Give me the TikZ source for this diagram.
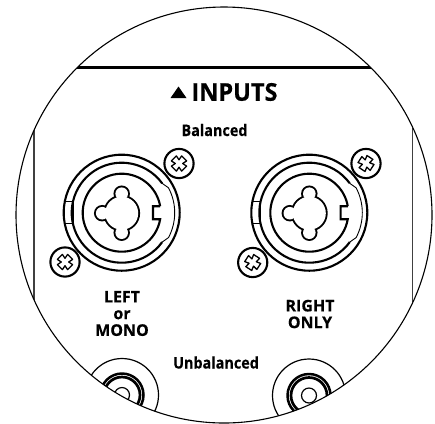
\documentclass[tikz,border=0pt]{standalone}
\usepackage{fontspec}
\usepackage{graphicx}
\setmainfont[BoldFeatures={FakeBold=0.4}]{Open Sans}
\newcommand{\screwat}[3]{%
  \begin{scope}[shift={(#1,#2)}]
    \fill[white] (0,0) circle (15.5);
    \draw[thickline] (0,0) circle (14.6);
    \draw[crossline,rotate=#3]
      (0,-3.7) -- (2.6,-7.6) -- (7.6,-2.6) -- (3.7,0) -- (7.6,2.6) -- (2.6,7.6) -- (0,3.7)
      -- (-2.6,7.6) -- (-7.6,2.6) -- (-3.7,0) -- (-7.6,-2.6) -- (-2.6,-7.6) -- cycle;
  \end{scope}}
\newcommand{\combojack}[2]{%
  \begin{scope}[shift={(#1,#2)}]
    \draw[thickline] (0,0) circle (58);
    % second ring with the thin right side
    \draw[thickline] (36:50) arc[start angle=36,end angle=324,radius=50];
    \draw[thinline] (36:50) -- (28:53) arc[start angle=28,end angle=-28,radius=53] -- (-36:50);
    % left tab
    \draw[thinline] (-56,-11) -- (-48.5,-11) -- (-48.5,11) -- (-56,11);
    % inner ring with key notch
    \draw[thickline] (-9.6:39) -- ++(-7.2,0) -- ++(0,13) -- (9.6:39)
      arc[start angle=9.6,end angle=350.4,radius=39];
    % contact outline
    \foreach \p/\r in {{0,0.5}/16.5,{0,-19}/6.3,{0,20}/6.3,{-19.5,0.5}/6.3}{\draw[line width=3.8bp] (\p) circle (\r);}
    \foreach \p/\r in {{0,0.5}/16.5,{0,-19}/6.3,{0,20}/6.3,{-19.5,0.5}/6.3}{\fill[white] (\p) circle (\r);}
    \fill[white] (-4,-19) rectangle (4,0) (-4,20) rectangle (4,0) (-19.5,-3.5) rectangle (0,4.5);
  \end{scope}}
\newcommand{\lowerjack}[2]{%
  \begin{scope}[shift={(#1,#2)}]
    \draw[line width=1.2bp] (0,0) circle (36.5);
    \draw[line width=2.5bp] (0,0) circle (21.5);
    \draw[line width=2.7bp] (0,0) circle (18);
    \draw[line width=1.2bp] (0,0) circle (7.5);
  \end{scope}}
\tikzset{
  thickline/.style={line width=2.1bp},
  thinline/.style={line width=0.9bp},
  crossline/.style={line width=1.3bp,line join=round},
  lensline/.style={line width=1.1bp},
  labelbig/.style={font=\fontsize{24.5bp}{26bp}\selectfont\bfseries,inner sep=0pt,anchor=center},
  labelcaps/.style={font=\fontsize{16bp}{16.7bp}\selectfont\bfseries,inner sep=0pt,align=center,anchor=center},
  labelsmall/.style={font=\fontsize{16bp}{18bp}\selectfont\bfseries,inner sep=0pt,anchor=center},
}
\begin{document}
\begin{tikzpicture}[x=1bp,y=-1bp]
\useasboundingbox (0,0) rectangle (435,423);
\fill[white] (0,0) rectangle (435,423);
\begin{scope}
  \clip (224,215) circle (208);
  \draw[line width=3bp] (60,67.5) -- (390,67.5);
  \draw[line width=1.4bp,black!75] (34,100) -- (34,330);
  \draw[line width=1.4bp,black!75] (412.5,100) -- (412.5,330);
  \lowerjack{122}{395}
  \lowerjack{309}{395.5}
\end{scope}
\draw[lensline] (224,215) circle (208);
\combojack{121.7}{212.7}
\combojack{309.3}{212.7}
\screwat{179}{163.5}{0}
\screwat{65}{262}{0}
\screwat{366}{163.5}{12}
\screwat{252.7}{262.5}{12}
\fill (170.5,98) -- (178.5,86.5) -- (186.5,98) -- cycle;
\node[labelbig] (inputs) at (234.5,92) {\scalebox{0.96}[1]{INPUTS}};
\node[labelsmall] (balanced) at (214.5,130) {\scalebox{0.9}[1]{Balanced}};
\node[labelcaps] (left) at (122,313.5) {LEFT\\or\\MONO};
\node[labelcaps] (right) at (310,314) {RIGHT\\ONLY};
\node[labelsmall] (unbalanced) at (216,362.5) {\scalebox{0.9}[1]{Unbalanced}};
\end{tikzpicture}
\end{document}
